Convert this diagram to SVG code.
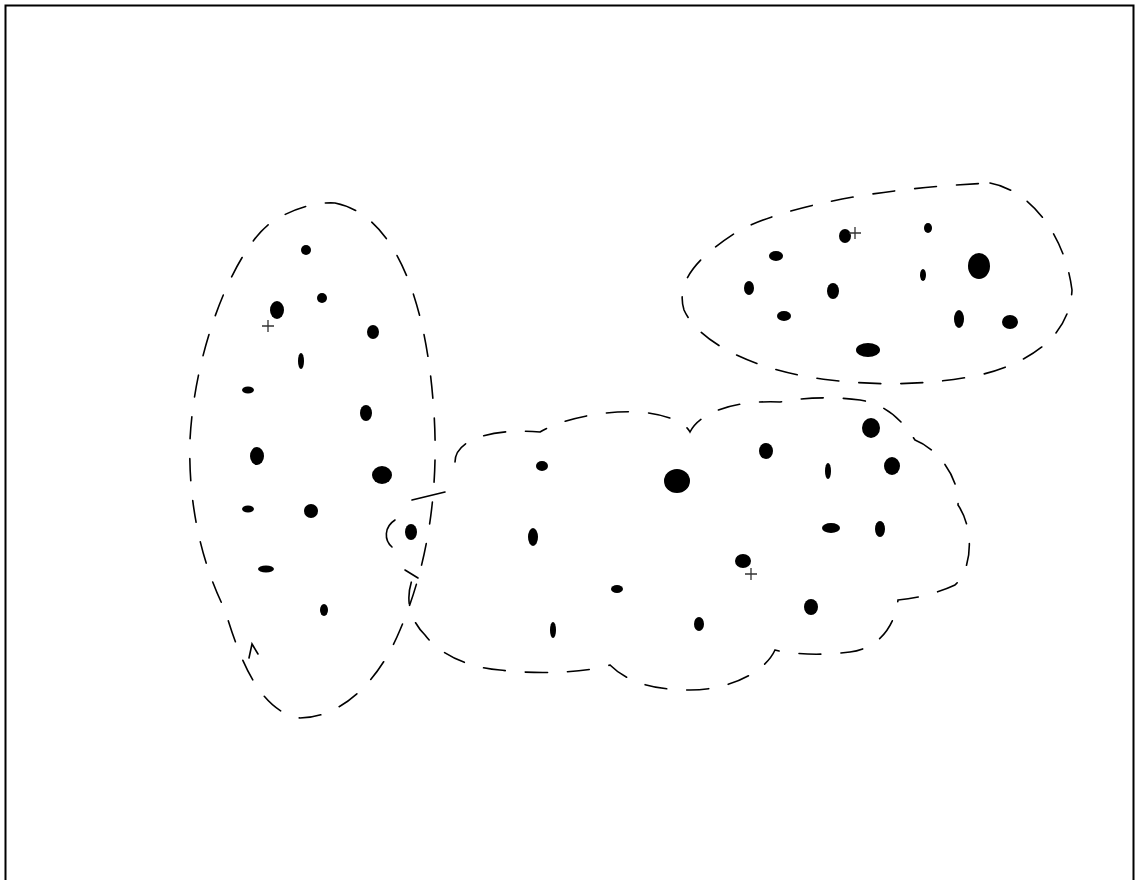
<svg xmlns="http://www.w3.org/2000/svg" width="1135" height="880" viewBox="0 0 1135 880">
<style>
.outline{fill:none;stroke:#000;stroke-width:1.6;stroke-dasharray:22 20;stroke-linecap:round}
.dot{fill:#000}
.plus{stroke:#333;stroke-width:1.3;fill:none}
</style>
<rect x="0" y="0" width="1135" height="880" fill="#fff"/>
<path d="M5.5,880 V5.5 H1133.5 V880" fill="none" stroke="#000" stroke-width="2"/>
<g id="cluster-left">
<path class="outline" d="M335,203 C395,215 425,300 433,400 C440,480 430,560 400,630 C375,690 335,718 300,718 C260,712 240,660 225,610 C200,560 188,500 190,440 C195,340 240,240 275,220 C295,208 315,202 335,203 Z"/>
<path class="outline" style="stroke-dasharray:none" d="M249,658 L252,644 L258,654"/>
<ellipse class="dot" cx="306" cy="250" rx="5" ry="5"/>
<ellipse class="dot" cx="277" cy="310" rx="7" ry="9"/>
<ellipse class="dot" cx="322" cy="298" rx="5" ry="5"/>
<ellipse class="dot" cx="373" cy="332" rx="6" ry="7"/>
<ellipse class="dot" cx="301" cy="361" rx="3" ry="8"/>
<ellipse class="dot" cx="248" cy="390" rx="6" ry="3.5"/>
<ellipse class="dot" cx="366" cy="413" rx="6" ry="8"/>
<ellipse class="dot" cx="257" cy="456" rx="7" ry="9"/>
<ellipse class="dot" cx="382" cy="475" rx="10" ry="9"/>
<ellipse class="dot" cx="248" cy="509" rx="6" ry="3.5"/>
<ellipse class="dot" cx="311" cy="511" rx="7" ry="7"/>
<ellipse class="dot" cx="266" cy="569" rx="8" ry="3.5"/>
<ellipse class="dot" cx="324" cy="610" rx="4" ry="6"/>
<path class="plus" d="M262,326 H274 M268,320 V332"/>
</g>
<g id="cluster-top-right">
<path class="outline" d="M990,183 C1030,190 1065,235 1072,290 C1070,330 1040,360 980,375 C930,385 880,386 830,380 C760,372 700,345 684,310 C675,280 700,255 740,230 C790,205 880,188 990,183 Z"/>
<ellipse class="dot" cx="845" cy="236" rx="6" ry="7"/>
<ellipse class="dot" cx="928" cy="228" rx="4" ry="5"/>
<ellipse class="dot" cx="776" cy="256" rx="7" ry="5"/>
<ellipse class="dot" cx="979" cy="266" rx="11" ry="13"/>
<ellipse class="dot" cx="923" cy="275" rx="3" ry="6"/>
<ellipse class="dot" cx="749" cy="288" rx="5" ry="7"/>
<ellipse class="dot" cx="833" cy="291" rx="6" ry="8"/>
<ellipse class="dot" cx="784" cy="316" rx="7" ry="5"/>
<ellipse class="dot" cx="959" cy="319" rx="5" ry="9"/>
<ellipse class="dot" cx="1010" cy="322" rx="8" ry="7"/>
<ellipse class="dot" cx="868" cy="350" rx="12" ry="7"/>
<path class="plus" d="M849,233 H861 M855,227 V239"/>
</g>
<g id="cluster-bottom">
<path class="outline" d="M455,462 C455,440 490,428 540,432 C560,420 600,410 640,412 C665,414 685,422 690,432 C700,412 735,400 780,402 C800,398 830,396 860,400 C890,405 905,425 915,440 C940,450 960,480 958,505 C975,530 972,570 955,585 C940,592 920,598 898,600 C895,625 880,648 850,652 C820,656 790,654 775,650 C765,672 730,690 690,690 C660,690 630,685 610,665 C590,672 540,675 500,670 C470,668 440,655 425,635 C410,620 405,600 412,580"/>
<path class="outline" style="stroke-dasharray:none" d="M395,520 C384,527 384,540 392,547"/>
<path class="outline" style="stroke-dasharray:none" d="M405,570 L418,578"/>
<path class="outline" style="stroke-dasharray:none" d="M412,500 L445,492"/>
<ellipse class="dot" cx="411" cy="532" rx="6" ry="8"/>
<ellipse class="dot" cx="542" cy="466" rx="6" ry="5"/>
<ellipse class="dot" cx="677" cy="481" rx="13" ry="12"/>
<ellipse class="dot" cx="766" cy="451" rx="7" ry="8"/>
<ellipse class="dot" cx="871" cy="428" rx="9" ry="10"/>
<ellipse class="dot" cx="828" cy="471" rx="3" ry="8"/>
<ellipse class="dot" cx="892" cy="466" rx="8" ry="9"/>
<ellipse class="dot" cx="533" cy="537" rx="5" ry="9"/>
<ellipse class="dot" cx="831" cy="528" rx="9" ry="5"/>
<ellipse class="dot" cx="880" cy="529" rx="5" ry="8"/>
<ellipse class="dot" cx="743" cy="561" rx="8" ry="7"/>
<ellipse class="dot" cx="617" cy="589" rx="6" ry="4"/>
<ellipse class="dot" cx="811" cy="607" rx="7" ry="8"/>
<ellipse class="dot" cx="553" cy="630" rx="3" ry="8"/>
<ellipse class="dot" cx="699" cy="624" rx="5" ry="7"/>
<path class="plus" d="M745,574 H757 M751,568 V580"/>
</g>
</svg>
